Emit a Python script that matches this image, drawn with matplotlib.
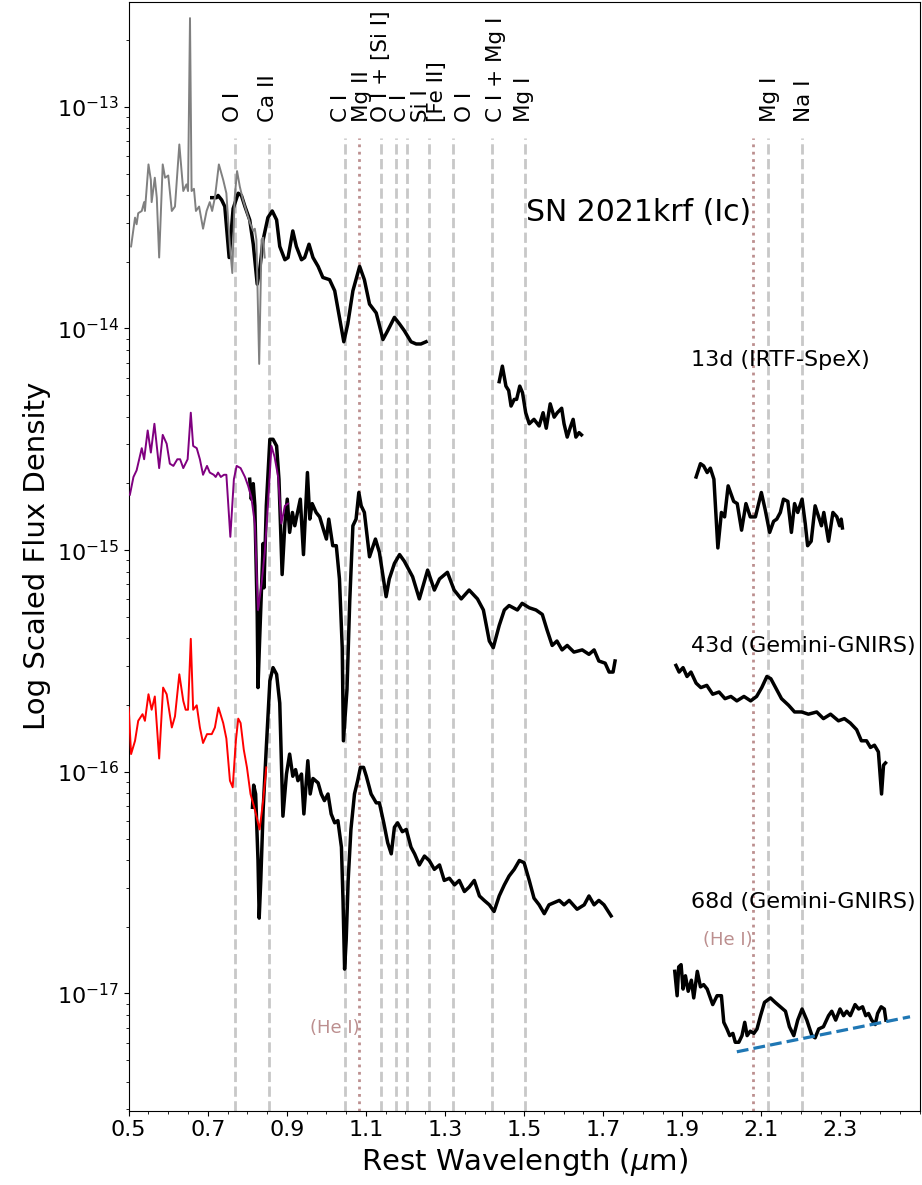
import numpy as np
import matplotlib
matplotlib.use("Agg")
import matplotlib.pyplot as plt
from matplotlib.ticker import FixedLocator, MultipleLocator

# ---- spectra: rest wavelength (um) and log10 of scaled flux density ----
# 13d optical comparison (grey)
wl_13d_opt = [0.506, 0.516, 0.520, 0.524, 0.533, 0.539, 0.541, 0.550, 0.556, 0.558,
              0.566, 0.571, 0.577, 0.586, 0.592, 0.600, 0.609, 0.617, 0.628, 0.638,
              0.646, 0.650, 0.655, 0.659, 0.665, 0.670, 0.678, 0.688, 0.697, 0.705,
              0.711, 0.718, 0.728, 0.739, 0.747, 0.756, 0.762, 0.768, 0.774, 0.781,
              0.789, 0.806, 0.815, 0.819, 0.823, 0.830, 0.836, 0.840, 0.844]
lf_13d_opt = [-13.63, -13.50, -13.53, -13.48, -13.47, -13.43, -13.47, -13.26, -13.33, -13.43,
              -13.32, -13.41, -13.68, -13.26, -13.32, -13.31, -13.47, -13.45, -13.17, -13.38,
              -13.35, -13.38, -12.60, -13.38, -13.37, -13.47, -13.45, -13.55, -13.47, -13.43,
              -13.47, -13.41, -13.26, -13.33, -13.39, -13.63, -13.75, -13.41, -13.29, -13.36,
              -13.42, -13.52, -13.56, -13.55, -13.60, -14.16, -13.60, -13.59, -13.68]

# 13d NIR (IRTF-SpeX), three windows between the telluric bands
wl_13d_a = [0.710, 0.722, 0.726, 0.735, 0.743, 0.754, 0.764, 0.777, 0.785, 0.794,
            0.806, 0.815, 0.825, 0.831, 0.840, 0.852, 0.863, 0.874, 0.882, 0.895,
            0.903, 0.915, 0.924, 0.937, 0.945, 0.956, 0.966, 0.979, 0.991, 1.008,
            1.021, 1.033, 1.044, 1.054, 1.067, 1.084, 1.096, 1.109, 1.126, 1.143,
            1.155, 1.172, 1.185, 1.197, 1.214, 1.227, 1.239, 1.252]
lf_13d_a = [-13.41, -13.41, -13.40, -13.42, -13.45, -13.68, -13.46, -13.39, -13.40, -13.45,
            -13.51, -13.62, -13.80, -13.74, -13.60, -13.50, -13.47, -13.51, -13.63, -13.69,
            -13.68, -13.56, -13.63, -13.69, -13.68, -13.62, -13.68, -13.72, -13.77, -13.78,
            -13.83, -13.95, -14.06, -13.98, -13.83, -13.72, -13.78, -13.89, -13.93, -14.05,
            -14.01, -13.95, -13.98, -14.01, -14.06, -14.07, -14.07, -14.06]
wl_13d_b = [1.437, 1.445, 1.454, 1.461, 1.467, 1.475, 1.481, 1.489, 1.496, 1.504,
            1.513, 1.525, 1.538, 1.548, 1.556, 1.566, 1.576, 1.584, 1.595, 1.601,
            1.609, 1.618, 1.624, 1.631, 1.639, 1.645]
lf_13d_b = [-14.24, -14.17, -14.26, -14.28, -14.35, -14.32, -14.32, -14.26, -14.29, -14.38,
            -14.43, -14.41, -14.44, -14.38, -14.45, -14.34, -14.40, -14.38, -14.36, -14.43,
            -14.49, -14.44, -14.41, -14.49, -14.47, -14.48]
wl_13d_c = [1.935, 1.946, 1.954, 1.963, 1.971, 1.980, 1.990, 1.999, 2.007, 2.016,
            2.030, 2.039, 2.050, 2.061, 2.072, 2.085, 2.100, 2.110, 2.121, 2.131,
            2.139, 2.148, 2.156, 2.167, 2.176, 2.184, 2.192, 2.203, 2.211, 2.217,
            2.226, 2.236, 2.245, 2.252, 2.258, 2.270, 2.281, 2.291, 2.298, 2.302, 2.305]
lf_13d_c = [-14.67, -14.61, -14.62, -14.65, -14.63, -14.68, -14.99, -14.83, -14.85, -14.71,
            -14.78, -14.79, -14.91, -14.79, -14.85, -14.85, -14.74, -14.82, -14.92, -14.87,
            -14.86, -14.83, -14.77, -14.78, -14.92, -14.79, -14.83, -14.77, -14.88, -14.98,
            -14.96, -14.80, -14.85, -14.89, -14.83, -14.96, -14.83, -14.85, -14.89, -14.86, -14.90]

# 43d optical comparison (purple)
wl_43d_opt = [0.503, 0.512, 0.520, 0.533, 0.539, 0.548, 0.556, 0.565, 0.577, 0.586,
              0.596, 0.604, 0.613, 0.623, 0.630, 0.638, 0.649, 0.657, 0.663, 0.672,
              0.680, 0.688, 0.698, 0.705, 0.715, 0.720, 0.726, 0.733, 0.741, 0.747,
              0.757, 0.766, 0.773, 0.783, 0.794, 0.802, 0.810, 0.819, 0.827, 0.836,
              0.844, 0.852, 0.861, 0.869, 0.878, 0.886, 0.895, 0.903]
lf_43d_opt = [-14.75, -14.67, -14.64, -14.54, -14.59, -14.46, -14.56, -14.43, -14.63, -14.48,
              -14.52, -14.61, -14.62, -14.59, -14.59, -14.63, -14.59, -14.38, -14.53, -14.54,
              -14.59, -14.66, -14.62, -14.65, -14.66, -14.67, -14.65, -14.67, -14.66, -14.66,
              -14.94, -14.68, -14.62, -14.63, -14.67, -14.71, -14.76, -14.88, -15.27, -15.15,
              -15.01, -14.80, -14.53, -14.58, -14.67, -14.88, -14.80, -14.79]

# 43d NIR (Gemini-GNIRS)
wl_43d_a = [0.806, 0.810, 0.815, 0.819, 0.825, 0.827, 0.831, 0.840, 0.842, 0.848,
            0.857, 0.865, 0.874, 0.880, 0.888, 0.895, 0.901, 0.907, 0.914, 0.920,
            0.927, 0.934, 0.942, 0.952, 0.958, 0.964, 0.974, 0.983, 0.993, 1.000,
            1.006, 1.016, 1.025, 1.033, 1.040, 1.043, 1.052, 1.059, 1.067, 1.075,
            1.082, 1.088, 1.096, 1.109, 1.124, 1.134, 1.151, 1.159, 1.172, 1.185,
            1.197, 1.218, 1.235, 1.256, 1.273, 1.286, 1.306, 1.323, 1.341, 1.361,
            1.382, 1.397, 1.412, 1.422, 1.437, 1.450, 1.462, 1.483, 1.495, 1.513,
            1.530, 1.546, 1.558, 1.571, 1.583, 1.596, 1.609, 1.626, 1.647, 1.664,
            1.677, 1.689, 1.705, 1.715, 1.725, 1.730]
lf_43d_a = [-14.68, -14.77, -14.70, -14.80, -15.29, -15.62, -15.41, -14.97, -15.17, -14.80,
            -14.50, -14.50, -14.53, -14.68, -15.11, -14.88, -14.77, -14.92, -14.83, -14.89,
            -14.83, -14.77, -15.02, -14.65, -14.86, -14.79, -14.83, -14.85, -14.91, -14.95,
            -14.86, -14.98, -14.98, -15.13, -15.44, -15.86, -15.63, -15.23, -14.89, -14.86,
            -14.74, -14.80, -14.83, -15.03, -14.95, -15.01, -15.21, -15.13, -15.06, -15.02,
            -15.05, -15.12, -15.22, -15.09, -15.18, -15.13, -15.10, -15.18, -15.22, -15.18,
            -15.22, -15.27, -15.41, -15.44, -15.34, -15.27, -15.25, -15.27, -15.24, -15.26,
            -15.27, -15.29, -15.36, -15.43, -15.41, -15.45, -15.43, -15.46, -15.45, -15.47,
            -15.45, -15.50, -15.51, -15.55, -15.55, -15.50]
wl_43d_b = [1.884, 1.892, 1.902, 1.912, 1.922, 1.935, 1.947, 1.962, 1.977, 1.993,
            2.008, 2.023, 2.038, 2.056, 2.073, 2.088, 2.101, 2.114, 2.124, 2.136,
            2.151, 2.169, 2.184, 2.202, 2.219, 2.240, 2.257, 2.275, 2.295, 2.310,
            2.325, 2.341, 2.353, 2.366, 2.376, 2.386, 2.396, 2.404, 2.409, 2.414]
lf_43d_b = [-15.52, -15.55, -15.53, -15.57, -15.55, -15.60, -15.62, -15.61, -15.65, -15.64,
            -15.67, -15.66, -15.68, -15.66, -15.68, -15.66, -15.62, -15.57, -15.58, -15.62,
            -15.67, -15.70, -15.73, -15.73, -15.74, -15.73, -15.76, -15.74, -15.77, -15.76,
            -15.78, -15.81, -15.86, -15.86, -15.89, -15.88, -15.91, -16.10, -15.97, -15.96]

# 68d optical comparison (red)
wl_68d_opt = [0.500, 0.506, 0.516, 0.524, 0.535, 0.541, 0.550, 0.558, 0.566, 0.577,
              0.587, 0.596, 0.609, 0.617, 0.628, 0.638, 0.644, 0.650, 0.657, 0.663,
              0.672, 0.680, 0.688, 0.698, 0.710, 0.718, 0.727, 0.739, 0.747, 0.756,
              0.763, 0.771, 0.777, 0.783, 0.791, 0.799, 0.808, 0.819, 0.831, 0.840, 0.848]
lf_68d_opt = [-15.71, -15.92, -15.86, -15.77, -15.74, -15.77, -15.65, -15.72, -15.66, -15.94,
              -15.62, -15.65, -15.80, -15.75, -15.56, -15.68, -15.72, -15.72, -15.40, -15.72,
              -15.70, -15.80, -15.87, -15.83, -15.83, -15.80, -15.71, -15.78, -15.85, -16.04,
              -16.07, -15.86, -15.76, -15.78, -15.90, -15.98, -16.10, -16.17, -16.26, -16.13, -15.98]

# 68d NIR (Gemini-GNIRS)
wl_68d_a = [0.813, 0.816, 0.821, 0.827, 0.830, 0.834, 0.840, 0.848, 0.857, 0.865,
            0.874, 0.882, 0.890, 0.899, 0.907, 0.915, 0.922, 0.928, 0.937, 0.943,
            0.953, 0.959, 0.966, 0.979, 0.987, 0.995, 1.004, 1.012, 1.021, 1.029,
            1.038, 1.042, 1.046, 1.050, 1.055, 1.062, 1.071, 1.079, 1.086, 1.094,
            1.101, 1.113, 1.126, 1.134, 1.145, 1.155, 1.164, 1.172, 1.180, 1.192,
            1.202, 1.214, 1.223, 1.235, 1.248, 1.260, 1.273, 1.286, 1.298, 1.311,
            1.324, 1.336, 1.349, 1.361, 1.374, 1.387, 1.399, 1.412, 1.424, 1.437,
            1.450, 1.462, 1.475, 1.488, 1.500, 1.513, 1.525, 1.538, 1.551, 1.563,
            1.576, 1.589, 1.601, 1.614, 1.634, 1.652, 1.664, 1.677, 1.689, 1.702, 1.720]
lf_68d_a = [-16.16, -16.06, -16.10, -16.40, -16.66, -16.49, -16.17, -15.89, -15.59, -15.53,
            -15.56, -15.69, -16.20, -16.01, -15.92, -16.02, -15.99, -16.04, -16.01, -16.19,
            -15.95, -16.10, -16.03, -16.05, -16.10, -16.13, -16.10, -16.19, -16.23, -16.22,
            -16.34, -16.58, -16.89, -16.76, -16.49, -16.26, -16.10, -16.04, -15.98, -15.98,
            -16.02, -16.10, -16.14, -16.14, -16.23, -16.32, -16.37, -16.25, -16.23, -16.27,
            -16.26, -16.34, -16.37, -16.42, -16.38, -16.40, -16.44, -16.42, -16.49, -16.48,
            -16.51, -16.49, -16.54, -16.52, -16.49, -16.56, -16.58, -16.60, -16.63, -16.56,
            -16.51, -16.47, -16.44, -16.40, -16.41, -16.49, -16.57, -16.60, -16.64, -16.60,
            -16.59, -16.58, -16.60, -16.58, -16.62, -16.60, -16.56, -16.60, -16.58, -16.60, -16.65]
wl_68d_b = [1.881, 1.887, 1.891, 1.897, 1.902, 1.908, 1.915, 1.923, 1.929, 1.938,
            1.946, 1.954, 1.963, 1.971, 1.977, 1.988, 1.999, 2.005, 2.013, 2.020,
            2.028, 2.034, 2.043, 2.051, 2.058, 2.064, 2.072, 2.081, 2.089, 2.098,
            2.108, 2.123, 2.135, 2.148, 2.161, 2.171, 2.182, 2.192, 2.203, 2.215,
            2.228, 2.236, 2.245, 2.257, 2.270, 2.278, 2.288, 2.299, 2.308, 2.316,
            2.325, 2.337, 2.346, 2.356, 2.364, 2.371, 2.379, 2.388, 2.394, 2.403, 2.411, 2.415]
lf_68d_b = [-16.90, -17.01, -16.88, -16.87, -16.98, -16.92, -16.99, -16.94, -17.02, -16.90,
            -16.97, -16.96, -16.98, -17.02, -17.05, -17.01, -17.01, -17.13, -17.16, -17.19,
            -17.18, -17.22, -17.22, -17.19, -17.13, -17.19, -17.17, -17.18, -17.16, -17.10,
            -17.04, -17.02, -17.04, -17.06, -17.08, -17.15, -17.19, -17.12, -17.07, -17.12,
            -17.19, -17.20, -17.16, -17.15, -17.10, -17.08, -17.12, -17.07, -17.10, -17.08,
            -17.10, -17.05, -17.07, -17.06, -17.10, -17.09, -17.12, -17.14, -17.09, -17.06, -17.07, -17.12]

# continuum under the 68d K band
wl_cont = [2.038, 2.476]
lf_cont = [-17.263, -17.105]

# line identifications
line_wl = [0.768, 0.855, 1.046, 1.139, 1.175, 1.203, 1.259, 1.319, 1.418, 1.501, 2.117, 2.203]
he_wl = [1.083, 2.079]
label_text = ["O I", "Ca II", "C I", "Mg II", "O I + [Si I]", "C I", "Si I", "[Fe II]",
              "O I", "C I + Mg I", "Mg I", "Mg I", "Na I"]
label_wl = [0.764, 0.852, 1.036, 1.090, 1.137, 1.186, 1.238, 1.279, 1.350, 1.429, 1.500, 2.123, 2.207]

epoch_text = ["13d (IRTF-SpeX)", "43d (Gemini-GNIRS)", "68d (Gemini-GNIRS)"]
epoch_lf = [-14.143, -15.433, -16.586]


def flux(lf):
    return 10 ** np.asarray(lf)


fig = plt.figure(figsize=(9.22, 11.85), dpi=100)
ax = fig.add_axes([0.1396, 0.0627, 0.8577, 0.9359])
ax.set_yscale("log")
ax.set_xlim(0.5, 2.5)
ax.set_ylim(2.96e-18, 2.98e-13)

# NIR spectra in black, optical comparisons on top in colour
for wl, lf in [(wl_13d_a, lf_13d_a), (wl_13d_b, lf_13d_b), (wl_13d_c, lf_13d_c),
               (wl_43d_a, lf_43d_a), (wl_43d_b, lf_43d_b),
               (wl_68d_a, lf_68d_a), (wl_68d_b, lf_68d_b)]:
    ax.plot(wl, flux(lf), color="black", lw=2.5, zorder=3)
ax.plot(wl_13d_opt, flux(lf_13d_opt), color="gray", lw=1.4, zorder=4)
ax.plot(wl_43d_opt, flux(lf_43d_opt), color="purple", lw=1.4, zorder=4)
ax.plot(wl_68d_opt, flux(lf_68d_opt), color="red", lw=1.4, zorder=4)
ax.plot(wl_cont, flux(lf_cont), color="#1f77b4", ls="--", lw=2.3, zorder=5)

for w in line_wl:
    ax.axvline(w, ymax=0.877, color="#c8c8c8", ls="--", lw=2.0, zorder=1)
for w in he_wl:
    ax.axvline(w, ymax=0.877, color="rosybrown", ls=":", lw=2.0, zorder=1)

for t, w in zip(label_text, label_wl):
    ax.text(w, 8.5e-14, t, rotation=90, ha="center", va="bottom", fontsize=15.5)

ax.text(1.083, 10 ** -17.155, "(He I)", color="rosybrown", ha="right", va="center", fontsize=13)
ax.text(2.079, 10 ** -16.759, "(He I)", color="rosybrown", ha="right", va="center", fontsize=13)

ax.text(1.504, 10 ** -13.475, "SN 2021krf (Ic)", ha="left", va="center", fontsize=21.5)
for t, lf in zip(epoch_text, epoch_lf):
    ax.text(1.921, 10 ** lf, t, ha="left", va="center", fontsize=16)

ax.xaxis.set_major_locator(FixedLocator(np.arange(0.5, 2.4, 0.2)))
ax.xaxis.set_minor_locator(MultipleLocator(0.05))
ax.set_xticklabels([f"{v:.1f}" for v in np.arange(0.5, 2.4, 0.2)])
ax.tick_params(labelsize=16)
ax.set_xlabel(r"Rest Wavelength ($\mu$m)", fontsize=21)
ax.set_ylabel("Log Scaled Flux Density", fontsize=21)

fig.savefig("out.png", dpi=100)
